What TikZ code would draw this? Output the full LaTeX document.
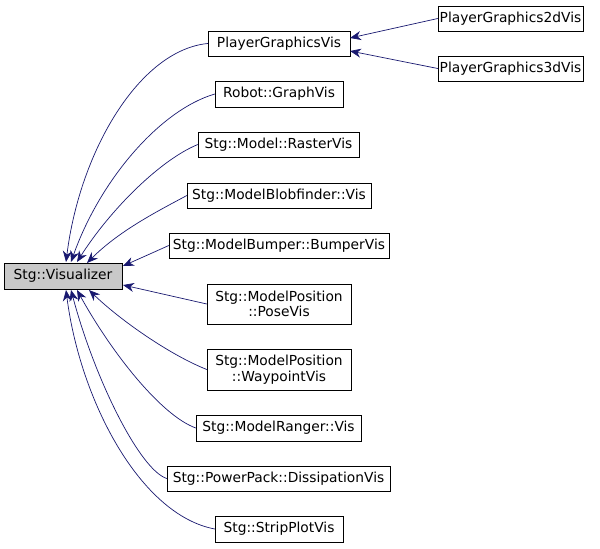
\documentclass[tikz,border=0pt]{standalone}
\usepackage{fontspec}
\setmainfont{DejaVu Sans}
\usetikzlibrary{arrows.meta}
\begin{document}
\begin{tikzpicture}[x=1pt,y=-1pt,
  box/.style={draw=black,fill=white,inner sep=0pt,font=\fontsize{13.8}{15.5}\selectfont,align=center},
  e/.style={draw=navy,{Stealth[length=11pt,width=9pt]}-,line width=0.7pt}]
\definecolor{navy}{HTML}{191970}
\useasboundingbox (0,0) rectangle (600,549);
\node[box,fill=lightgray!85,minimum width=118,minimum height=26] (vis) at (63,276) {Stg::Visualizer};
\node[box,minimum width=142,minimum height=25] (pgv) at (279,43.5) {PlayerGraphicsVis};
\node[box,minimum width=145,minimum height=25] (p2) at (510.5,18.5) {PlayerGraphics2dVis};
\node[box,minimum width=145,minimum height=25] (p3) at (510.5,68.5) {PlayerGraphics3dVis};
\node[box,minimum width=128,minimum height=26] (rob) at (279,94) {Robot::GraphVis};
\node[box,minimum width=161,minimum height=25] (ras) at (278.5,144.5) {Stg::Model::RasterVis};
\node[box,minimum width=184,minimum height=25] (blob) at (279,195.5) {Stg::ModelBlobfinder::Vis};
\node[box,minimum width=220,minimum height=25] (bump) at (279,245.5) {Stg::ModelBumper::BumperVis};
\node[box,minimum width=144,minimum height=40] (pose) at (279,304) {Stg::ModelPosition\\::PoseVis};
\node[box,minimum width=144,minimum height=41] (way) at (279,369.5) {Stg::ModelPosition\\::WaypointVis};
\node[box,minimum width=165,minimum height=26] (rng) at (278.5,428) {Stg::ModelRanger::Vis};
\node[box,minimum width=223,minimum height=25] (diss) at (278.5,478.5) {Stg::PowerPack::DissipationVis};
\node[box,minimum width=128,minimum height=26] (strip) at (279,529) {Stg::StripPlotVis};
\coordinate (a1) at (66,262);
\coordinate (a2) at (71,262);
\coordinate (a3) at (77,262);
\coordinate (a4) at (87,263);
\coordinate (a5) at (123,266);
\coordinate (a6) at (123,285);
\coordinate (a7) at (89,290);
\coordinate (a8) at (77,290);
\coordinate (a9) at (71,290);
\coordinate (a10) at (66,290);
\coordinate (b1) at (350,38);
\coordinate (b2) at (350,51);
\draw[e] (a1) .. controls (80,150) and (140,50) .. (pgv.west);
\draw[e] (a2) .. controls (100,180) and (160,110) .. (rob.west);
\draw[e] (a3) .. controls (110,210) and (160,160) .. (ras.west);
\draw[e] (a4) .. controls (120,230) and (160,210) .. (blob.west);
\draw[e] (a5) -- (bump.west);
\draw[e] (a6) -- (pose.west);
\draw[e] (a7) .. controls (120,320) and (170,355) .. (way.west);
\draw[e] (a8) .. controls (110,350) and (160,415) .. (rng.west);
\draw[e] (a9) .. controls (95,380) and (140,470) .. (diss.west);
\draw[e] (a10) .. controls (80,400) and (140,515) .. (strip.west);
\draw[e] (b1) -- (p2.west);
\draw[e] (b2) -- (p3.west);
\end{tikzpicture}
\end{document}
